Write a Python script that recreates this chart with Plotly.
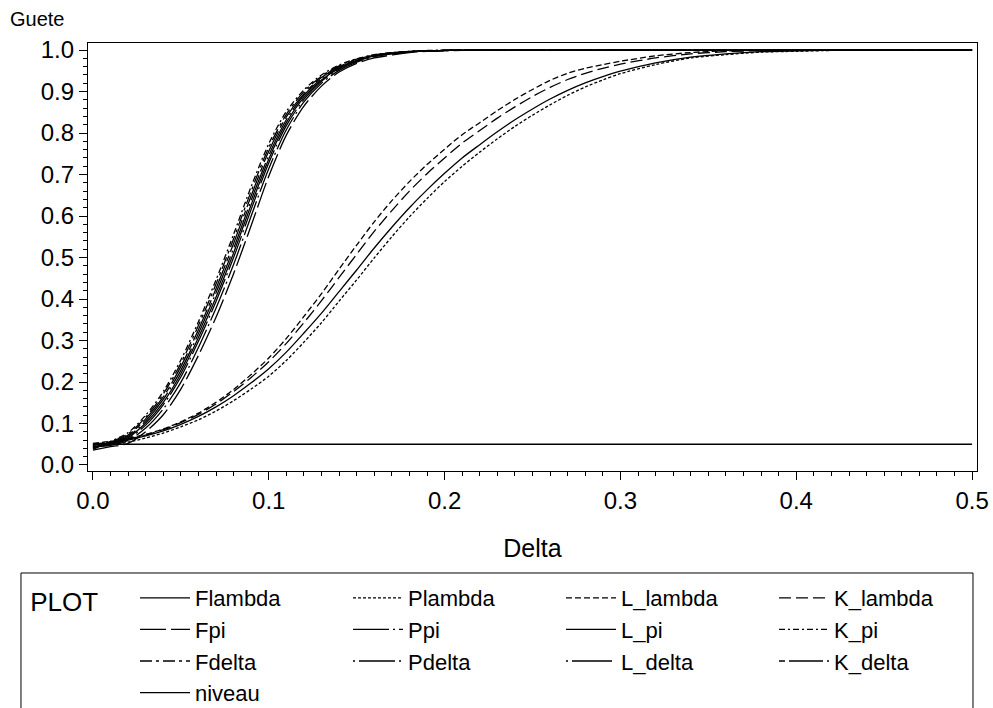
import plotly.graph_objects as go

# x grid (Delta)
delta = [0.00, 0.01, 0.02, 0.03, 0.04, 0.05, 0.06, 0.07, 0.08, 0.09,
         0.10, 0.11, 0.12, 0.13, 0.14, 0.15, 0.16, 0.17, 0.18, 0.19,
         0.20, 0.21, 0.22, 0.23, 0.24, 0.25, 0.26, 0.27, 0.28, 0.29,
         0.30, 0.32, 0.34, 0.36, 0.38, 0.40, 0.42, 0.44, 0.46, 0.48, 0.50]

# slow group (lambda)
Flambda = [0.048, 0.053, 0.060, 0.070, 0.082, 0.098, 0.117, 0.140, 0.167, 0.198,
           0.232, 0.272, 0.318, 0.366, 0.418, 0.470, 0.523, 0.573, 0.620, 0.663,
           0.703, 0.740, 0.772, 0.803, 0.832, 0.858, 0.882, 0.903, 0.921, 0.936,
           0.949, 0.969, 0.983, 0.991, 0.996, 0.998, 1.0, 1.0, 1.0, 1.0, 1.0]
Plambda = [0.044, 0.049, 0.055, 0.065, 0.077, 0.092, 0.109, 0.130, 0.155, 0.183,
           0.214, 0.252, 0.296, 0.343, 0.395, 0.446, 0.499, 0.550, 0.598, 0.642,
           0.683, 0.720, 0.754, 0.786, 0.816, 0.843, 0.868, 0.891, 0.911, 0.928,
           0.943, 0.965, 0.981, 0.989, 0.995, 0.997, 0.999, 1.0, 1.0, 1.0, 1.0]
L_lambda = [0.052, 0.057, 0.064, 0.074, 0.087, 0.104, 0.125, 0.151, 0.182, 0.218,
            0.258, 0.305, 0.358, 0.413, 0.472, 0.530, 0.586, 0.637, 0.683, 0.724,
            0.761, 0.796, 0.825, 0.854, 0.881, 0.905, 0.927, 0.944, 0.956, 0.965,
            0.973, 0.986, 0.994, 0.998, 1.0, 1.0, 1.0, 1.0, 1.0, 1.0, 1.0]
K_lambda = [0.050, 0.055, 0.062, 0.072, 0.085, 0.102, 0.122, 0.147, 0.177, 0.211,
            0.249, 0.293, 0.343, 0.396, 0.452, 0.508, 0.563, 0.613, 0.660, 0.702,
            0.740, 0.776, 0.806, 0.836, 0.863, 0.888, 0.910, 0.929, 0.944, 0.956,
            0.966, 0.981, 0.991, 0.996, 0.999, 1.0, 1.0, 1.0, 1.0, 1.0, 1.0]

# fast group (pi, delta)
Fpi = [0.036, 0.044, 0.052, 0.080, 0.121, 0.183, 0.264, 0.356, 0.461, 0.577,
       0.696, 0.795, 0.865, 0.913, 0.947, 0.968, 0.981, 0.988, 0.994, 0.997,
       0.998, 0.999, 1.0, 1.0, 1.0, 1.0, 1.0, 1.0, 1.0, 1.0,
       1.0, 1.0, 1.0, 1.0, 1.0, 1.0, 1.0, 1.0, 1.0, 1.0, 1.0]
Ppi = [0.043, 0.047, 0.059, 0.089, 0.135, 0.199, 0.283, 0.378, 0.483, 0.600,
       0.714, 0.808, 0.875, 0.920, 0.951, 0.971, 0.984, 0.991, 0.995, 0.998,
       0.999, 1.0, 1.0, 1.0, 1.0, 1.0, 1.0, 1.0, 1.0, 1.0,
       1.0, 1.0, 1.0, 1.0, 1.0, 1.0, 1.0, 1.0, 1.0, 1.0, 1.0]
L_pi = [0.048, 0.051, 0.066, 0.101, 0.151, 0.220, 0.307, 0.404, 0.511, 0.627,
        0.737, 0.825, 0.886, 0.928, 0.956, 0.974, 0.986, 0.992, 0.996, 0.998,
        0.999, 1.0, 1.0, 1.0, 1.0, 1.0, 1.0, 1.0, 1.0, 1.0,
        1.0, 1.0, 1.0, 1.0, 1.0, 1.0, 1.0, 1.0, 1.0, 1.0, 1.0]
K_pi = [0.040, 0.057, 0.078, 0.120, 0.177, 0.253, 0.345, 0.446, 0.556, 0.671,
        0.774, 0.852, 0.904, 0.940, 0.964, 0.979, 0.989, 0.994, 0.997, 0.999,
        1.0, 1.0, 1.0, 1.0, 1.0, 1.0, 1.0, 1.0, 1.0, 1.0,
        1.0, 1.0, 1.0, 1.0, 1.0, 1.0, 1.0, 1.0, 1.0, 1.0, 1.0]
Fdelta = [0.042, 0.056, 0.075, 0.115, 0.171, 0.245, 0.336, 0.436, 0.545, 0.660,
          0.765, 0.845, 0.900, 0.937, 0.962, 0.978, 0.988, 0.993, 0.997, 0.998,
          0.999, 1.0, 1.0, 1.0, 1.0, 1.0, 1.0, 1.0, 1.0, 1.0,
          1.0, 1.0, 1.0, 1.0, 1.0, 1.0, 1.0, 1.0, 1.0, 1.0, 1.0]
Pdelta = [0.044, 0.049, 0.063, 0.096, 0.145, 0.212, 0.298, 0.394, 0.500, 0.616,
          0.728, 0.818, 0.881, 0.925, 0.954, 0.973, 0.985, 0.992, 0.996, 0.998,
          0.999, 1.0, 1.0, 1.0, 1.0, 1.0, 1.0, 1.0, 1.0, 1.0,
          1.0, 1.0, 1.0, 1.0, 1.0, 1.0, 1.0, 1.0, 1.0, 1.0, 1.0]
L_delta = [0.046, 0.053, 0.069, 0.106, 0.158, 0.228, 0.317, 0.415, 0.522, 0.638,
           0.746, 0.832, 0.891, 0.931, 0.958, 0.975, 0.987, 0.993, 0.996, 0.998,
           0.999, 1.0, 1.0, 1.0, 1.0, 1.0, 1.0, 1.0, 1.0, 1.0,
           1.0, 1.0, 1.0, 1.0, 1.0, 1.0, 1.0, 1.0, 1.0, 1.0, 1.0]
K_delta = [0.038, 0.054, 0.072, 0.111, 0.164, 0.237, 0.326, 0.425, 0.534, 0.649,
           0.756, 0.839, 0.895, 0.934, 0.960, 0.977, 0.988, 0.993, 0.997, 0.998,
           0.999, 1.0, 1.0, 1.0, 1.0, 1.0, 1.0, 1.0, 1.0, 1.0,
           1.0, 1.0, 1.0, 1.0, 1.0, 1.0, 1.0, 1.0, 1.0, 1.0, 1.0]

# significance level
niveau_x = [0.0, 0.5]
niveau = [0.05, 0.05]

series = [
    ("Flambda", delta, Flambda, "solid"),
    ("Plambda", delta, Plambda, "3px,2px"),
    ("L_lambda", delta, L_lambda, "6px,3px"),
    ("K_lambda", delta, K_lambda, "12px,5px"),
    ("Fpi", delta, Fpi, "26px,5px"),
    ("Ppi", delta, Ppi, "36px,4px,2px,4px"),
    ("L_pi", delta, L_pi, "solid"),
    ("K_pi", delta, K_pi, "6px,3px,2px,3px"),
    ("Fdelta", delta, Fdelta, "12px,4px,3px,4px"),
    ("Pdelta", delta, Pdelta, "2px,4px,36px,4px"),
    ("L_delta", delta, L_delta, "2px,4px,40px,4px"),
    ("K_delta", delta, K_delta, "6px,4px,34px,4px"),
    ("niveau", niveau_x, niveau, "solid"),
]

fig = go.Figure()
for name, xs, ys, dash in series:
    fig.add_trace(go.Scatter(
        x=xs, y=ys, name=name, mode="lines",
        line=dict(color="black", width=1.3, dash=dash, shape="spline", smoothing=0.8),
    ))

FONT = "Liberation Sans, Arial, Helvetica, sans-serif"
NB = "\u00a0"

fig.update_layout(
    width=993, height=708,
    margin=dict(l=88, r=16, t=43, b=237, autoexpand=False),
    paper_bgcolor="white", plot_bgcolor="white",
    font=dict(family=FONT, size=22, color="black"),
    xaxis=dict(
        range=[-0.0028, 0.5028], tick0=0, dtick=0.1, tickformat=".1f",
        tickfont=dict(size=24),
        showline=True, linecolor="black", linewidth=1.3, mirror=True,
        ticks="outside", ticklen=8, tickwidth=1.3, tickcolor="black",
        minor=dict(ticks="outside", ticklen=4, tickwidth=1, dtick=0.01, tick0=0,
                   tickcolor="black", showgrid=False),
        showgrid=False, zeroline=False,
        title=dict(text="Delta", standoff=26, font=dict(size=25)),
    ),
    yaxis=dict(
        range=[-0.0145, 1.017], tick0=0, dtick=0.1, tickformat=".1f",
        tickfont=dict(size=24),
        showline=True, linecolor="black", linewidth=1.3, mirror=True,
        ticks="outside", ticklen=8, tickwidth=1.3, tickcolor="black",
        minor=dict(ticks="outside", ticklen=4, tickwidth=1, dtick=0.02, tick0=0,
                   tickcolor="black", showgrid=False),
        showgrid=False, zeroline=False,
    ),
    legend=dict(
        orientation="h", x=-0.0754, xanchor="left", y=-0.2477, yanchor="top",
        borderwidth=0, bgcolor="rgba(0,0,0,0)",
        title=dict(text=NB + "PLOT" + NB * 4, side="left"),
        itemwidth=50,
        entrywidth=148, entrywidthmode="pixels", traceorder="normal",
        font=dict(size=22),
    ),
    shapes=[dict(
        type="rect", xref="paper", yref="paper",
        x0=-0.0754, x1=0.9955, y0=-0.75, y1=-0.2383,
        line=dict(color="black", width=1), fillcolor="rgba(0,0,0,0)", layer="above",
    )],
    annotations=[dict(
        text="Guete", xref="paper", yref="paper", x=-0.09, y=1.056,
        xanchor="left", yanchor="middle", showarrow=False, font=dict(size=20),
    )],
    showlegend=True,
)

fig.write_html(
    "out.html",
    config={"displayModeBar": False},
    post_script="document.body.style.margin='0';document.body.style.overflow='hidden';",
)
